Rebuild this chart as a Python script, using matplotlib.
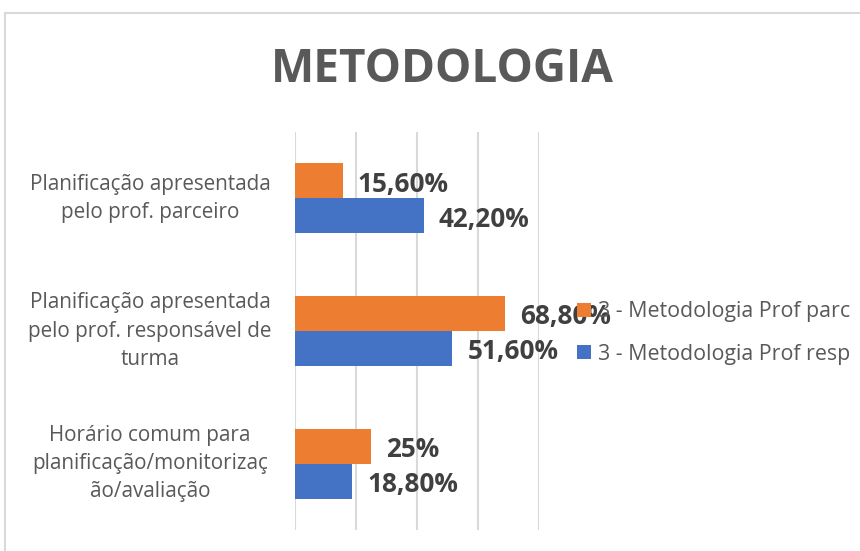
import matplotlib.pyplot as plt
import matplotlib.transforms as mtransforms
from matplotlib.patches import Patch
from matplotlib.lines import Line2D

# data
categories = [
    "Planificação apresentada\npelo prof. parceiro",
    "Planificação apresentada\npelo prof. responsável de\nturma",
    "Horário comum para\nplanificação/monitorizaç\não/avaliação",
]
parc_values = [15.6, 68.8, 25.0]
resp_values = [42.2, 51.6, 18.8]
parc_labels = ["15,60%", "68,80%", "25%"]
resp_labels = ["42,20%", "51,60%", "18,80%"]
series_names = ["3 - Metodologia Prof parc", "3 - Metodologia Prof resp"]

ORANGE = "#ED7D31"
BLUE = "#4472C4"
GRID = "#D9D9D9"
FONT = "Open Sans"

W, H = 860, 551
fig = plt.figure(figsize=(W / 100, H / 100), dpi=100)

# chart frame (cut off at right and bottom like the screenshot)
fig.add_artist(Line2D([5 / W, 5 / W], [0, 1 - 13 / H], color=GRID, lw=1.5))
fig.add_artist(Line2D([5 / W, 1], [1 - 13 / H, 1 - 13 / H], color=GRID, lw=1.5))

ax = fig.add_axes([295 / W, 1 - 530 / H, 244 / W, 398 / H])

bar_h = 0.264
pos = list(range(len(categories)))
ax.barh([p - bar_h / 2 for p in pos], parc_values, height=bar_h, color=ORANGE, zorder=2)
ax.barh([p + bar_h / 2 for p in pos], resp_values, height=bar_h, color=BLUE, zorder=2)

ax.set_xlim(0, 80)
ax.set_ylim(len(categories) - 0.5, -0.5)
ax.set_xticks([0, 20, 40, 60, 80])
ax.xaxis.grid(True, color=GRID, lw=1.5, zorder=0)
ax.set_yticks([])
ax.tick_params(axis="x", length=0, labelbottom=False)
for s in ax.spines.values():
    s.set_visible(False)

# data labels
for p, v, lab in zip(pos, parc_values, parc_labels):
    ax.annotate(lab, (v, p - bar_h / 2), xytext=(11, -2.5), textcoords="offset points",
                ha="left", va="center", fontsize=18.8, fontweight="bold",
                color="#404040", family=FONT, zorder=3)
for p, v, lab in zip(pos, resp_values, resp_labels):
    ax.annotate(lab, (v, p + bar_h / 2), xytext=(11, -2.5), textcoords="offset points",
                ha="left", va="center", fontsize=18.8, fontweight="bold",
                color="#404040", family=FONT, zorder=3)

# category labels
trans = mtransforms.blended_transform_factory(fig.transFigure, ax.transData)
for p, cat in zip(pos, categories):
    ax.text(150 / W, p, cat, transform=trans, ha="center", va="center",
            multialignment="center", fontsize=14.9, color="#595959",
            family=FONT, linespacing=1.45)

# title
fig.text(442 / W, 1 - 70 / H, "METODOLOGIA", ha="center", va="center",
         fontsize=33, fontweight="bold", color="#595959", family=FONT)

# legend
handles = [Patch(facecolor=ORANGE), Patch(facecolor=BLUE)]
leg = fig.legend(handles, series_names, loc="center left",
                 bbox_to_anchor=(577 / W, 1 - 333 / H), frameon=False,
                 borderpad=0, borderaxespad=0, handlelength=0.66, handleheight=0.66,
                 handletextpad=0.3, labelspacing=1.0,
                 prop={"family": FONT, "size": 15.4})
for t in leg.get_texts():
    t.set_color("#595959")
leg.set_zorder(10)

fig.savefig("out.png", dpi=100)
